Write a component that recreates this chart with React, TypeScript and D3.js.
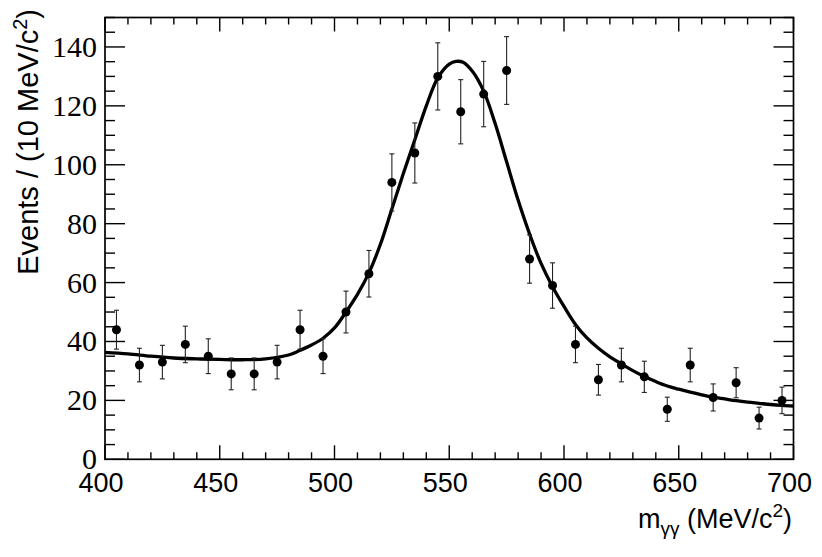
import { useEffect, useRef } from 'react';
import * as d3 from 'd3';

// Binned data (bin centres in MeV/c^2)
const massBins = [
  405, 415, 425, 435, 445, 455, 465, 475, 485, 495,
  505, 515, 525, 535, 545, 555, 565, 575, 585, 595,
  605, 615, 625, 635, 645, 655, 665, 675, 685, 695,
];
const eventCounts = [
  44, 32, 33, 39, 35, 29, 29, 33, 44, 35,
  50, 63, 94, 104, 130, 118, 124, 132, 68, 59,
  39, 27, 32, 28, 17, 32, 21, 26, 14, 20,
];
const countErrors = [
  6.6, 5.7, 5.7, 6.2, 5.9, 5.4, 5.4, 5.7, 6.6, 5.9,
  7.1, 7.9, 9.7, 10.2, 11.4, 10.9, 11.1, 11.5, 8.2, 7.7,
  6.2, 5.2, 5.7, 5.3, 4.1, 5.7, 4.6, 5.1, 3.7, 4.5,
];

// Fit curve
const fitMass = [
  400, 410, 420, 430, 440, 450, 460, 470, 480, 485, 490, 495, 500, 505,
  510, 515, 520, 525, 530, 535, 540, 545, 550, 553, 556, 560, 565, 570,
  575, 580, 585, 590, 595, 600, 605, 610, 615, 620, 625, 630, 635, 640,
  645, 650, 655, 660, 665, 670, 675, 680, 685, 690, 695, 700,
];
const fitValue = [
  36.3, 35.8, 35.0, 34.4, 34.1, 33.9, 33.8, 34.1, 35.4, 37.0, 38.8, 41.1, 44.6, 50.0,
  56.0, 63.3, 73.0, 85.0, 97.0, 108.5, 120.0, 129.5, 134.2, 135.1, 134.8, 131.8, 125.0, 114.0,
  101.0, 88.0, 76.5, 66.5, 58.6, 51.9, 45.8, 41.2, 37.7, 34.8, 32.4, 30.1, 28.1, 26.4,
  24.9, 23.8, 22.8, 21.9, 21.1, 20.5, 19.9, 19.4, 19.0, 18.6, 18.3, 18.1,
];

const xMajorTicks = [400, 450, 500, 550, 600, 650, 700];
const yMajorTicks = [0, 20, 40, 60, 80, 100, 120, 140];

export default function App() {
  const svgRef = useRef<SVGSVGElement>(null);
  const width = 822;
  const height = 557;

  useEffect(() => {
    document.body.style.margin = '0';
    if (!svgRef.current) return;
    const svg = d3.select(svgRef.current);
    svg.selectAll('*').remove();

    const left = 105;
    const right = 793.5;
    const top = 17.5;
    const bottom = 459.3;

    const x = d3.scaleLinear().domain([400, 700]).range([left, right]);
    const y = d3.scaleLinear().domain([0, 150]).range([bottom, top]);

    const sans = "'Liberation Sans', Arial, Helvetica, sans-serif";
    const serif = "'Liberation Serif', 'Times New Roman', Tinos, 'Noto Serif', 'DejaVu Serif', FreeSerif, serif";

    svg.append('rect')
      .attr('width', width)
      .attr('height', height)
      .attr('fill', '#fff');

    // Ticks on all four sides
    const ticks = svg.append('g').attr('stroke', '#000').attr('stroke-width', 1.4);
    const xMinor = d3.range(400, 701, 10);
    const yMinor = d3.range(0, 151, 5);

    xMinor.forEach(v => {
      const len = v % 50 === 0 ? 14 : 7;
      ticks.append('line')
        .attr('x1', x(v)).attr('x2', x(v))
        .attr('y1', bottom).attr('y2', bottom - len);
      ticks.append('line')
        .attr('x1', x(v)).attr('x2', x(v))
        .attr('y1', top).attr('y2', top + len);
    });
    yMinor.forEach(v => {
      const len = v % 20 === 0 ? 20 : 10;
      ticks.append('line')
        .attr('x1', left).attr('x2', left + len)
        .attr('y1', y(v)).attr('y2', y(v));
      ticks.append('line')
        .attr('x1', right).attr('x2', right - len)
        .attr('y1', y(v)).attr('y2', y(v));
    });

    // Frame
    svg.append('rect')
      .attr('x', left)
      .attr('y', top)
      .attr('width', right - left)
      .attr('height', bottom - top)
      .attr('fill', 'none')
      .attr('stroke', '#000')
      .attr('stroke-width', 1.7);

    // Tick labels
    svg.append('g')
      .selectAll('text')
      .data(xMajorTicks)
      .enter()
      .append('text')
      .attr('x', d => x(d) - 4)
      .attr('y', 492)
      .attr('text-anchor', 'middle')
      .attr('font-family', sans)
      .attr('font-size', 27)
      .attr('fill', '#000')
      .text(d => d);

    svg.append('g')
      .selectAll('text')
      .data(yMajorTicks)
      .enter()
      .append('text')
      .attr('x', 97)
      .attr('y', d => y(d) + 10)
      .attr('text-anchor', 'end')
      .attr('font-family', serif)
      .attr('font-size', 30)
      .attr('fill', '#000')
      .text(d => d);

    // Axis titles
    const xTitle = svg.append('text')
      .attr('x', 792)
      .attr('y', 528)
      .attr('text-anchor', 'end')
      .attr('font-family', sans)
      .attr('font-size', 27)
      .attr('fill', '#000');
    xTitle.append('tspan').text('m');
    xTitle.append('tspan').attr('dy', 7).attr('font-size', 19).text('γγ');
    xTitle.append('tspan').attr('dy', -7).text(' (MeV/c');
    xTitle.append('tspan').attr('dy', -11).attr('font-size', 19).text('2');
    xTitle.append('tspan').attr('dy', 11).text(')');

    const yTitle = svg.append('text')
      .attr('transform', 'translate(38,9) rotate(-90)')
      .attr('text-anchor', 'end')
      .attr('font-family', sans)
      .attr('font-size', 29)
      .attr('fill', '#000');
    yTitle.append('tspan').text('Events / (10 MeV/c');
    yTitle.append('tspan').attr('dy', -11).attr('font-size', 20).text('2');
    yTitle.append('tspan').attr('dy', 11).text(')');

    // Fit curve
    const line = d3.line<number>()
      .x((_, i) => x(fitMass[i]))
      .y(d => y(d))
      .curve(d3.curveCatmullRom);

    svg.append('path')
      .datum(fitValue)
      .attr('d', line)
      .attr('fill', 'none')
      .attr('stroke', '#000')
      .attr('stroke-width', 3.3);

    // Error bars
    const bars = svg.append('g').attr('stroke', '#222').attr('stroke-width', 1.1);
    eventCounts.forEach((c, i) => {
      const cx = x(massBins[i]);
      const y1 = y(c - countErrors[i]);
      const y2 = y(c + countErrors[i]);
      bars.append('line').attr('x1', cx).attr('x2', cx).attr('y1', y1).attr('y2', y2);
      bars.append('line').attr('x1', cx - 2.5).attr('x2', cx + 2.5).attr('y1', y1).attr('y2', y1);
      bars.append('line').attr('x1', cx - 2.5).attr('x2', cx + 2.5).attr('y1', y2).attr('y2', y2);
    });

    // Data points
    svg.append('g')
      .selectAll('circle')
      .data(eventCounts)
      .enter()
      .append('circle')
      .attr('cx', (_, i) => x(massBins[i]))
      .attr('cy', d => y(d))
      .attr('r', 4.5)
      .attr('fill', '#000');
  }, []);

  return <svg ref={svgRef} width={width} height={height} style={{ display: 'block' }} />;
}
